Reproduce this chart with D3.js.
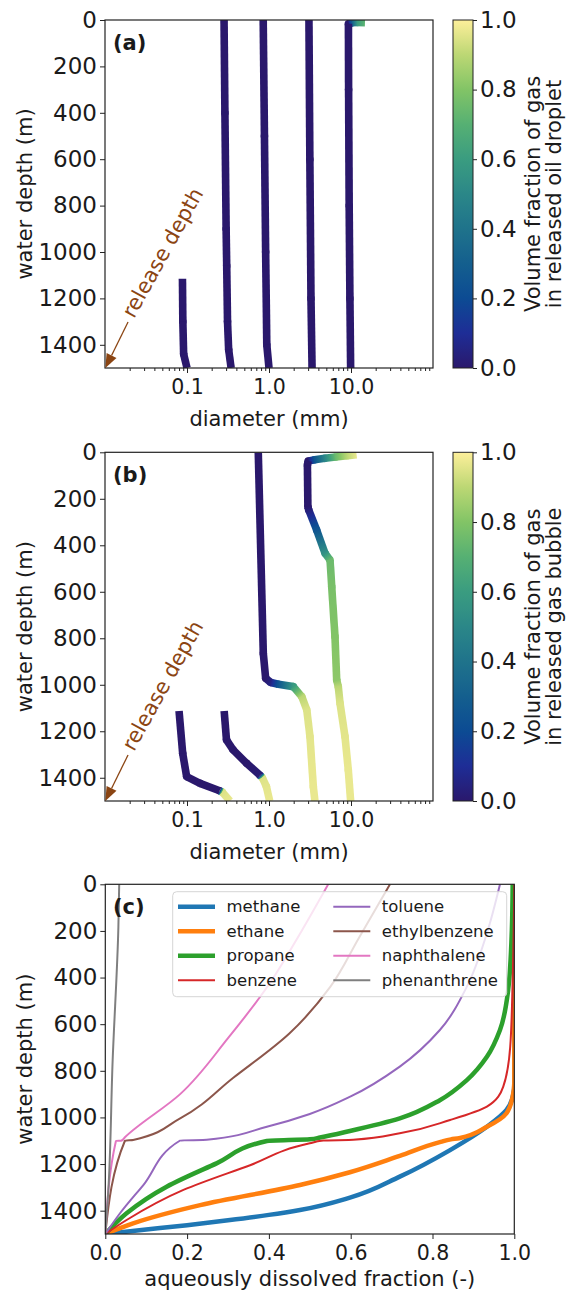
<!DOCTYPE html>
<html>
<head>
<meta charset="utf-8">
<script src="https://cdn.jsdelivr.net/npm/d3@7"></script>
<style>
  body { margin: 0; background: #fff; }
  text { font-family: "DejaVu Sans", sans-serif; fill: #1a1a1a; }
</style>
</head>
<body>
<script>
// ---------- data ----------
const depthTicks = [0, 200, 400, 600, 800, 1000, 1200, 1400];
const diameterTicks = [0.1, 1, 10];
const diameterTickLabels = ["0.1", "1.0", "10.0"];
const fractionTicks = [0, 0.2, 0.4, 0.6, 0.8, 1.0];

// (a) oil droplets: [diameter (mm), depth (m), gas volume fraction]
const oil1 = [[0.088, 1115, 0], [0.089, 1300, 0], [0.091, 1440, 0], [0.1, 1500, 0]];
const oil2 = [[0.283, 0, 0], [0.29, 400, 0], [0.3, 900, 0], [0.305, 1060, 0], [0.312, 1300, 0], [0.322, 1420, 0], [0.345, 1500, 0]];
const oil3 = [[0.85, 0, 0], [0.88, 500, 0], [0.91, 1000, 0], [0.94, 1400, 0], [1.0, 1500, 0]];
const oil4 = [[3.07, 0, 0], [3.15, 600, 0], [3.25, 1200, 0], [3.35, 1500, 0]];
const oil5 = [[14.8, 12, 0.72], [12, 11, 0.6], [10.3, 12, 0.3], [9.3, 16, 0], [9.35, 300, 0], [9.5, 800, 0], [9.7, 1200, 0], [9.9, 1500, 0]];
const oilDroplets = [oil1, oil2, oil3, oil4, oil5];

// (b) gas bubbles: [diameter (mm), depth (m), gas volume fraction]
const gas1 = [[0.08, 1113, 0], [0.0886, 1295, 0], [0.099, 1395, 0], [0.144, 1424, 0], [0.25, 1456, 0], [0.27, 1462, 0.95], [0.334, 1500, 0.97]];
const gas2 = [[0.284, 1113, 0], [0.303, 1237, 0], [0.365, 1280, 0], [0.534, 1338, 0], [0.78, 1390, 0.02], [0.83, 1400, 0.95], [0.93, 1438, 0.96], [1.02, 1500, 0.97]];
const gas3 = [[0.74, 0, 0], [0.852, 865, 0], [0.91, 972, 0], [1.05, 990, 0.05], [1.3, 998, 0.25], [1.98, 1008, 0.6], [2.51, 1051, 0.9], [2.89, 1108, 0.95], [3.16, 1223, 0.96], [3.47, 1438, 0.97], [3.63, 1500, 0.97]];
const gas4 = [[11.7, 10, 0.97], [9, 15, 0.9], [6.5, 20, 0.75], [4.8, 26, 0.5], [3.6, 32, 0.25], [3.0, 38, 0], [2.94, 55, 0], [2.98, 234, 0], [3.05, 248, 0.03], [3.81, 334, 0.25], [4.82, 434, 0.55], [5.55, 463, 0.75], [5.82, 578, 0.78], [6.38, 793, 0.8], [6.69, 980, 0.82], [7.0, 1008, 0.9], [7.35, 1080, 0.95], [8.45, 1223, 0.96], [9.27, 1367, 0.97], [9.9, 1500, 0.97]];
const gasBubbles = [gas1, gas2, gas3, gas4];

// (c) aqueously dissolved fraction: [fraction, depth (m)]
const speciesNames = ["methane", "ethane", "propane", "benzene", "toluene", "ethylbenzene", "naphthalene", "phenanthrene"];
const methane = [[0, 1500], [0.1, 1481], [0.2, 1462], [0.3, 1441], [0.4, 1418], [0.476, 1397], [0.6, 1343], [0.72, 1254], [0.843, 1140], [0.933, 1040], [0.981, 968], [0.998, 897], [1, 860], [1, 0]];
const ethane = [[0, 1500], [0.068, 1454], [0.232, 1376], [0.476, 1290], [0.598, 1235], [0.72, 1165], [0.82, 1105], [0.845, 1094], [0.865, 1089], [0.933, 1040], [0.981, 982], [0.996, 911], [1, 850], [1, 0]];
const propane = [[0, 1500], [0.052, 1411], [0.15, 1297], [0.272, 1197], [0.395, 1101], [0.5, 1094], [0.525, 1086], [0.598, 1058], [0.72, 1004], [0.818, 926], [0.884, 840], [0.933, 740], [0.965, 625], [0.985, 453], [0.994, 196], [0.996, 0]];
const benzene = [[0, 1500], [0.052, 1440], [0.191, 1311], [0.354, 1205], [0.5, 1111], [0.533, 1099], [0.606, 1096], [0.72, 1068], [0.843, 1011], [0.933, 954], [0.973, 868], [0.99, 697], [0.996, 411], [1, 0]];
const toluene = [[0, 1500], [0.036, 1411], [0.093, 1290], [0.183, 1099], [0.248, 1096], [0.395, 1040], [0.5, 985], [0.6, 910], [0.72, 782], [0.818, 625], [0.884, 439], [0.933, 210], [0.965, 0]];
const ethylbenzene = [[0, 1500], [0.048, 1100], [0.068, 1097], [0.183, 1004], [0.313, 830], [0.45, 640], [0.55, 440], [0.62, 230], [0.696, 0]];
const naphthalene = [[0, 1500], [0.026, 1101], [0.04, 1099], [0.048, 1085], [0.183, 900], [0.3, 660], [0.4, 430], [0.48, 200], [0.545, 0]];
const phenanthrene = [[0, 1500], [0.007, 1325], [0.018, 754], [0.032, 182], [0.034, 0]];
const dissolved = [methane, ethane, propane, benzene, toluene, ethylbenzene, naphthalene, phenanthrene];

// styles
const speciesColors = ["#1f77b4", "#ff7f0e", "#2ca02c", "#d62728", "#9467bd", "#8c564b", "#e377c2", "#7f7f7f"];
const speciesWidths = [4.5, 4.5, 4.5, 2, 2, 2, 2, 2];
const halineStops = ["#2a186c", "#1e2d96", "#0c4b93", "#145f8e", "#1f738b", "#2b8788", "#3a9c80", "#56b073", "#82c466", "#bcd774", "#fdef9a"];
const brown = "#8b4513";

const cmap = d3.scaleLinear().domain(d3.range(11).map(i => i / 10)).range(halineStops).clamp(true);

// ---------- svg ----------
const svg = d3.select("body").append("svg")
  .attr("width", 569)
  .attr("height", 1293)
  .style("background", "#fff");
const defs = svg.append("defs");

const xa = d3.scaleLog().domain([0.01, 100]).range([105, 433]);
const ya = d3.scaleLinear().domain([0, 1500]).range([20, 368]);
const yb = d3.scaleLinear().domain([0, 1500]).range([452.3, 801]);
const xc = d3.scaleLinear().domain([0, 1]).range([105.3, 514.3]);
const yc = d3.scaleLinear().domain([0, 1500]).range([884.3, 1234]);

const minorDiam = [];
[-2, -1, 0, 1].forEach(e => d3.range(2, 10).forEach(k => minorDiam.push(k * Math.pow(10, e))));

function clip(id, x, y) {
  defs.append("clipPath").attr("id", id)
    .append("rect")
    .attr("x", x.range()[0]).attr("y", y.range()[0])
    .attr("width", x.range()[1] - x.range()[0])
    .attr("height", y.range()[1] - y.range()[0]);
}

function styleAxis(size) {
  return g => {
    g.select(".domain").remove();
    g.selectAll("line").attr("stroke", "#222").attr("stroke-width", 1);
    g.selectAll("text").style("font-size", size + "px").attr("fill", "#1a1a1a");
  };
}

function drawFrame(x, y, label, xlabel, logx) {
  const top = y.range()[0], bottom = y.range()[1];
  const left = x.range()[0], right = x.range()[1];

  svg.append("g")
    .attr("transform", `translate(${left},0)`)
    .call(d3.axisLeft(y).tickValues(depthTicks).tickSize(5).tickPadding(3).tickFormat(d3.format("d")))
    .call(styleAxis(23));

  if (logx) {
    svg.append("g")
      .attr("transform", `translate(0,${bottom})`)
      .call(d3.axisBottom(x).tickValues(minorDiam).tickSize(3).tickFormat(""))
      .call(styleAxis(20.5));
    svg.append("g")
      .attr("transform", `translate(0,${bottom})`)
      .call(d3.axisBottom(x).tickValues(diameterTicks).tickSize(5).tickPadding(6)
        .tickFormat((d, i) => diameterTickLabels[i]))
      .call(styleAxis(20.5));
  } else {
    svg.append("g")
      .attr("transform", `translate(0,${bottom})`)
      .call(d3.axisBottom(x).tickValues(fractionTicks).tickSize(5).tickPadding(6).tickFormat(d3.format(".1f")))
      .call(styleAxis(20.5));
  }

  svg.append("rect")
    .attr("x", left).attr("y", top)
    .attr("width", right - left).attr("height", bottom - top)
    .attr("fill", "none").attr("stroke", "#222").attr("stroke-width", 1.2);

  svg.append("text")
    .attr("x", 113).attr("y", top + 30)
    .style("font-size", "21px").style("font-weight", "bold")
    .text(label);

  svg.append("text")
    .attr("transform", `translate(32,${(top + bottom) / 2}) rotate(-90)`)
    .attr("text-anchor", "middle")
    .style("font-size", "21px")
    .text("water depth (m)");

  svg.append("text")
    .attr("x", (left + right) / 2)
    .attr("y", logx ? bottom + 58 : bottom + 52)
    .attr("text-anchor", "middle")
    .style("font-size", "21px")
    .text(xlabel);
}

function drawTrack(g, pts, x, y, id) {
  // joints first so segments sit on top
  pts.slice(1, -1).forEach(p => {
    g.append("circle")
      .attr("cx", x(p[0])).attr("cy", y(p[1]))
      .attr("r", 3.8).attr("fill", cmap(p[2]));
  });
  pts.forEach((p, i) => {
    if (i == 0) return;
    const q = pts[i - 1];
    let stroke = cmap(p[2]);
    if (q[2] != p[2]) {
      const gid = id + "_" + i;
      const grad = defs.append("linearGradient")
        .attr("id", gid)
        .attr("gradientUnits", "userSpaceOnUse")
        .attr("x1", x(q[0])).attr("y1", y(q[1]))
        .attr("x2", x(p[0])).attr("y2", y(p[1]));
      d3.range(0, 1.01, 0.1).forEach(t => {
        grad.append("stop").attr("offset", t).attr("stop-color", cmap(q[2] + (p[2] - q[2]) * t));
      });
      stroke = "url(#" + gid + ")";
    }
    g.append("line")
      .attr("x1", x(q[0])).attr("y1", y(q[1]))
      .attr("x2", x(p[0])).attr("y2", y(p[1]))
      .attr("stroke", stroke)
      .attr("stroke-width", 7.6);
  });
}

function drawColorbar(y, title, idName) {
  const top = y.range()[0], bottom = y.range()[1];
  const cy = d3.scaleLinear().domain([0, 1]).range([bottom, top]);
  const grad = defs.append("linearGradient")
    .attr("id", idName)
    .attr("x1", 0).attr("y1", 1).attr("x2", 0).attr("y2", 0);
  d3.range(0, 1.001, 0.05).forEach(t => {
    grad.append("stop").attr("offset", t).attr("stop-color", cmap(t));
  });
  svg.append("rect")
    .attr("x", 453).attr("y", top)
    .attr("width", 20).attr("height", bottom - top)
    .attr("fill", "url(#" + idName + ")")
    .attr("stroke", "#222").attr("stroke-width", 1);
  svg.append("g")
    .attr("transform", "translate(473,0)")
    .call(d3.axisRight(cy).tickValues(fractionTicks).tickSize(4).tickPadding(3).tickFormat(d3.format(".1f")))
    .call(styleAxis(23));
  svg.append("text")
    .attr("transform", `translate(540,${(top + bottom) / 2}) rotate(-90)`)
    .attr("text-anchor", "middle")
    .style("font-size", "21px")
    .text(title[0]);
  svg.append("text")
    .attr("transform", `translate(561,${(top + bottom) / 2}) rotate(-90)`)
    .attr("text-anchor", "middle")
    .style("font-size", "21px")
    .text(title[1]);
}

function releaseDepth(x, y) {
  const tip = [x(0.0101), y(1500)];
  const tail = [x(0.0191), y(1302)];
  const ang = Math.atan2(tip[1] - tail[1], tip[0] - tail[0]);
  const len = 14, hw = 5.5;
  const base = [tip[0] - len * Math.cos(ang), tip[1] - len * Math.sin(ang)];
  svg.append("line")
    .attr("x1", tail[0]).attr("y1", tail[1])
    .attr("x2", base[0]).attr("y2", base[1])
    .attr("stroke", brown).attr("stroke-width", 1.3);
  svg.append("path")
    .attr("d", `M${tip[0]},${tip[1]}L${base[0] + hw * Math.sin(ang)},${base[1] - hw * Math.cos(ang)}L${base[0] - hw * Math.sin(ang)},${base[1] + hw * Math.cos(ang)}Z`)
    .attr("fill", brown);
  svg.append("text")
    .attr("transform", `translate(${x(0.0225)},${y(1290)}) rotate(-61)`)
    .style("font-size", "21px")
    .style("fill", brown)
    .text("release depth");
}

// ---------- panel (a) ----------
clip("clipA", xa, ya);
const ga = svg.append("g").attr("clip-path", "url(#clipA)");
oilDroplets.forEach((pts, i) => drawTrack(ga, pts, xa, ya, "oil" + i));
drawFrame(xa, ya, "(a)", "diameter (mm)", true);
releaseDepth(xa, ya);
drawColorbar(ya, ["Volume fraction of gas", "in released oil droplet"], "cbarA");

// ---------- panel (b) ----------
clip("clipB", xa, yb);
const gb = svg.append("g").attr("clip-path", "url(#clipB)");
gasBubbles.forEach((pts, i) => drawTrack(gb, pts, xa, yb, "gas" + i));
drawFrame(xa, yb, "(b)", "diameter (mm)", true);
releaseDepth(xa, yb);
drawColorbar(yb, ["Volume fraction of gas", "in released gas bubble"], "cbarB");

// ---------- panel (c) ----------
clip("clipC", xc, yc);
const gc = svg.append("g").attr("clip-path", "url(#clipC)");
const line = d3.line()
  .x(d => xc(d[0]))
  .y(d => yc(d[1]))
  .curve(d3.curveMonotoneY);
gc.selectAll("path.species")
  .data(dissolved)
  .enter()
  .append("path")
  .attr("class", "species")
  .attr("d", d => line(d.slice().sort((a, b) => a[1] - b[1])))
  .attr("fill", "none")
  .attr("stroke", (d, i) => speciesColors[i])
  .attr("stroke-width", (d, i) => speciesWidths[i])
  .attr("stroke-linejoin", "round");

// legend
const legend = svg.append("g").attr("id", "legend");
legend.append("rect")
  .attr("x", 172.7).attr("y", 891.7)
  .attr("width", 334).attr("height", 105)
  .attr("rx", 4)
  .attr("fill", "#fff").attr("fill-opacity", 0.8)
  .attr("stroke", "#d5d5d5");
speciesNames.forEach((name, i) => {
  const col = Math.floor(i / 4), row = i % 4;
  const lx = col == 0 ? 178 : 333.3;
  const ly = 906.7 + row * 24.5;
  legend.append("line")
    .attr("x1", lx).attr("x2", lx + 37)
    .attr("y1", ly).attr("y2", ly)
    .attr("stroke", speciesColors[i])
    .attr("stroke-width", speciesWidths[i]);
  legend.append("text")
    .attr("x", lx + 48.5).attr("y", ly)
    .attr("dy", "0.35em")
    .style("font-size", "16.5px")
    .text(name);
});

drawFrame(xc, yc, "(c)", "aqueously dissolved fraction (-)", false);
</script>
</body>
</html>
